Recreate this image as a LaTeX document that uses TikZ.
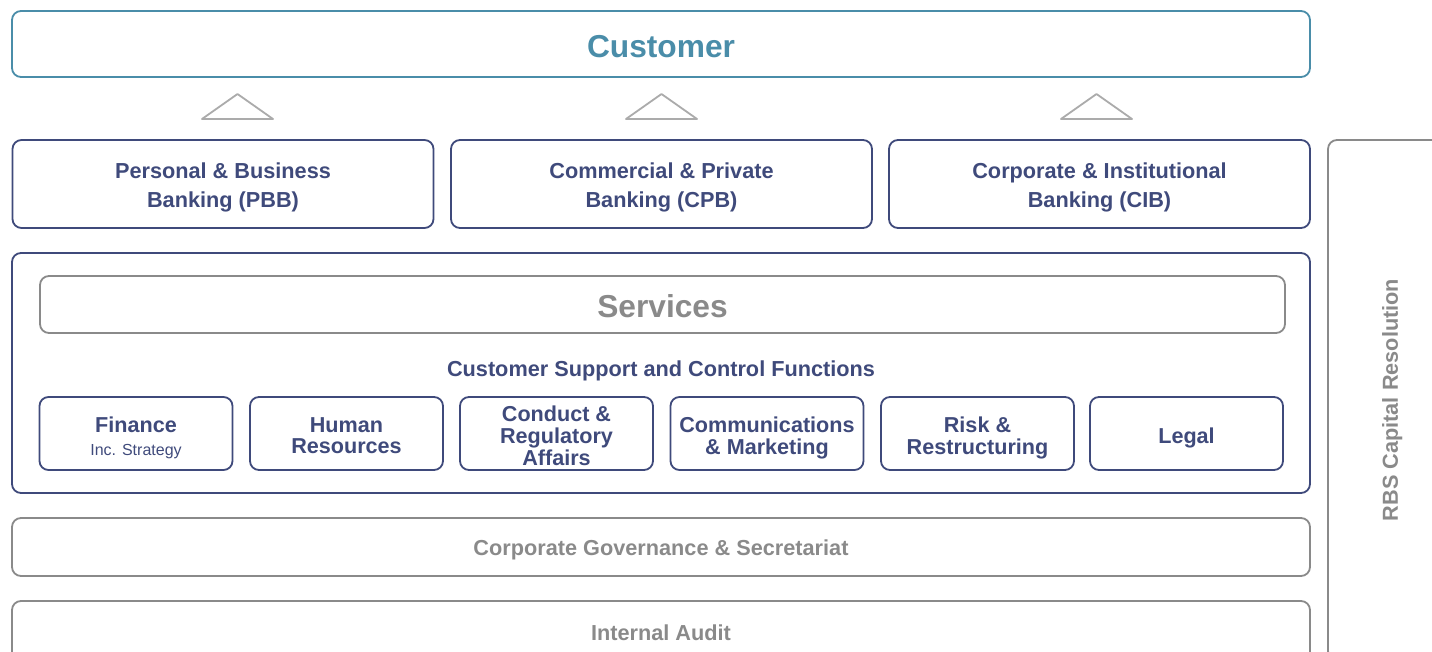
\documentclass[tikz,border=0pt]{standalone}
\usepackage{fontspec}
\setmainfont{Liberation Sans}
\definecolor{navy}{HTML}{3F4A7B}
\definecolor{custteal}{HTML}{4A8DA9}
\definecolor{gry}{HTML}{8A8A8A}
\definecolor{trig}{HTML}{ABABAB}
\newcommand{\lowtext}[2][3.5pt]{\raisebox{-#1}[\height][\depth]{\begin{tabular}{@{}c@{}}#2\end{tabular}}}
\begin{document}
\begin{tikzpicture}[x=1pt,y=-1pt,
  box/.style={draw, rounded corners=9pt, line width=1.8pt, inner sep=0pt, align=center},
  navybox/.style={box, draw=navy, text=navy},
  graybox/.style={box, draw=gry, text=gry},
  bigfont/.style={font=\bfseries\fontsize{31.7}{36}\selectfont},
  midfont/.style={font=\bfseries\fontsize{21.7}{29}\selectfont},
  smallfont/.style={font=\bfseries\fontsize{21.6}{21.6}\selectfont},
  unitbox/.style={navybox, minimum width=421pt, minimum height=88pt, midfont},
  funcbox/.style={navybox, minimum width=193pt, minimum height=73pt, smallfont},
  widebox/.style={minimum width=1298pt},
  tri/.style={draw=trig, fill=white, line width=1.8pt, line join=round}
]
\clip (0,0) rectangle (1432,652);
% customer
\node[box, draw=custteal, text=custteal, widebox, minimum height=66pt, bigfont] (cust) at (661,44) {\lowtext[6pt]{Customer}};
% triangles
\draw[tri] (202,119) -- (237.5,94) -- (273,119) -- cycle;
\draw[tri] (626,119) -- (661.5,94) -- (697,119) -- cycle;
\draw[tri] (1061,119) -- (1096.5,94) -- (1132,119) -- cycle;
% business units
\node[unitbox] (pbb) at (223,184) {\lowtext{Personal \& Business\\Banking (PBB)}};
\node[unitbox] (cpb) at (661.5,184) {\lowtext{Commercial \& Private\\Banking (CPB)}};
\node[unitbox] (cib) at (1099.5,184) {\lowtext{Corporate \& Institutional\\Banking (CIB)}};
% services
\node[navybox, widebox, minimum height=240pt] (svcouter) at (661,373) {};
\node[graybox, minimum width=1245pt, minimum height=57pt, bigfont] (svc) at (662.5,304.5) {\lowtext[6pt]{Services}};
\node[text=navy, midfont, inner sep=0pt] (cscf) at (661,371) {Customer Support and Control Functions};
\node[funcbox] (fin) at (136,433.5) {\lowtext[6pt]{Finance\\[1pt]{\normalfont\fontsize{16}{18}\selectfont Inc. Strategy}}};
\node[funcbox] (hr) at (346.5,433.5) {\lowtext[5pt]{Human\\Resources}};
\node[funcbox] (cra) at (556.5,433.5) {\lowtext[5.5pt]{Conduct \&\\Regulatory\\Affairs}};
\node[funcbox] (cm) at (767,433.5) {\lowtext[5pt]{Communications\\\& Marketing}};
\node[funcbox] (rr) at (977.5,433.5) {\lowtext[5pt]{Risk \&\\Restructuring}};
\node[funcbox] (legal) at (1186.5,433.5) {\lowtext[5pt]{Legal}};
% governance and audit
\node[graybox, widebox, minimum height=58pt, midfont] (gov) at (661,547) {\lowtext[3pt]{Corporate Governance \& Secretariat}};
\node[graybox, widebox, minimum height=62pt, midfont] (audit) at (661,632) {\lowtext[3pt]{Internal Audit}};
% RBS capital resolution
\node[graybox, rotate=90, minimum width=520pt, minimum height=124pt, midfont] (rbs) at (1390,400) {\lowtext[2pt]{RBS Capital Resolution}};
\end{tikzpicture}
\end{document}
